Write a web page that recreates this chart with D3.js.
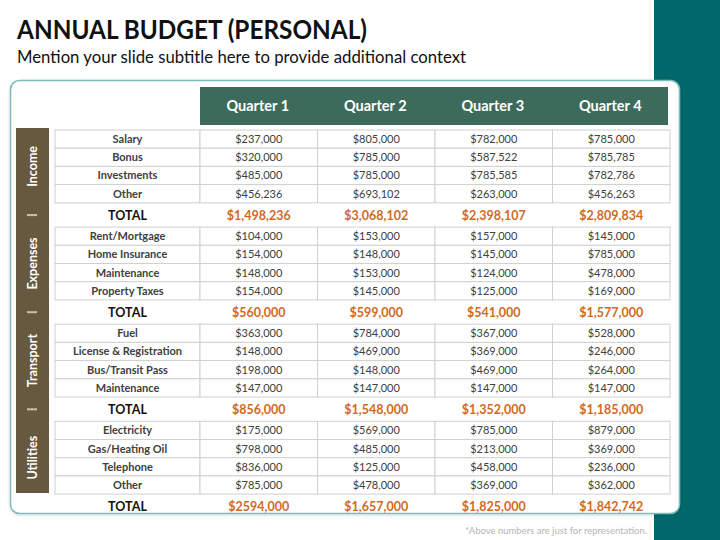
<!DOCTYPE html>
<html><head><meta charset="utf-8">
<script src="https://cdn.jsdelivr.net/npm/d3@7"></script>
<style>html,body{margin:0;padding:0;background:#fff;}svg{display:block;}</style>
</head><body><svg id="c" width="720" height="540"></svg>
<script>
const titleText = "ANNUAL BUDGET (PERSONAL)";
const subtitleText = "Mention your slide subtitle here to provide additional context";
const footnoteText = "*Above numbers are just for representation.";
const quarters = ["Quarter 1","Quarter 2","Quarter 3","Quarter 4"];
const categories = ["Income","Expenses","Transport","Utilities"];
const incomeItems = ["Salary","Bonus","Investments","Other"];
const expensesItems = ["Rent/Mortgage","Home Insurance","Maintenance","Property Taxes"];
const transportItems = ["Fuel","License & Registration","Bus/Transit Pass","Maintenance"];
const utilitiesItems = ["Electricity","Gas/Heating Oil","Telephone","Other"];
const incomeValues = [[237000,805000,782000,785000],[320000,785000,587522,785785],[485000,785000,785585,782786],[456236,693102,263000,456263]];
const expensesValues = [[104000,153000,157000,145000],[154000,148000,145000,785000],[148000,153000,124000,478000],[154000,145000,125000,169000]];
const transportValues = [[363000,784000,367000,528000],[148000,469000,369000,246000],[198000,148000,469000,264000],[147000,147000,147000,147000]];
const utilitiesValues = [[175000,569000,785000,879000],[798000,485000,213000,369000],[836000,125000,458000,236000],[785000,478000,369000,362000]];
const totalLabels = [["$1,498,236","$3,068,102","$2,398,107","$2,809,834"],["$560,000","$599,000","$541,000","$1,577,000"],["$856,000","$1,548,000","$1,352,000","$1,185,000"],["$2594,000","$1,657,000","$1,825,000","$1,842,742"]];

const groups = [
  {name:categories[0], items:incomeItems, values:incomeValues, totals:totalLabels[0]},
  {name:categories[1], items:expensesItems, values:expensesValues, totals:totalLabels[1]},
  {name:categories[2], items:transportItems, values:transportValues, totals:totalLabels[2]},
  {name:categories[3], items:utilitiesItems, values:utilitiesValues, totals:totalLabels[3]}
];

const FONT = "Lato, 'Open Sans', sans-serif";
const svg = d3.select("#c");
const fmt = d3.format("$,.0f");

// slide background
svg.append("rect").attr("x",0).attr("y",0).attr("width",720).attr("height",540).attr("fill","#fff");
svg.append("rect").attr("x",654).attr("y",0).attr("width",66).attr("height",540).attr("fill","#02676a");

// title
svg.append("text").attr("x",17).attr("y",39).text(titleText)
  .attr("font-family",FONT).attr("font-weight",700).attr("font-size",26).attr("fill","#111")
  .attr("textLength",350).attr("lengthAdjust","spacingAndGlyphs");
svg.append("text").attr("x",17).attr("y",63).text(subtitleText)
  .attr("font-family",FONT).attr("font-size",16.5).attr("fill","#111")
  .attr("textLength",449).attr("lengthAdjust","spacingAndGlyphs");

// card
const defs = svg.append("defs");
const f = defs.append("filter").attr("id","sh").attr("x","-5%").attr("y","-5%").attr("width","110%").attr("height","110%");
f.append("feDropShadow").attr("dx",0).attr("dy",1).attr("stdDeviation",1.5).attr("flood-color","#000").attr("flood-opacity",0.15);
svg.append("rect").attr("x",10.5).attr("y",80.5).attr("width",669).attr("height",433).attr("rx",9)
  .attr("fill","#fff").attr("stroke","#7dbcbc").attr("stroke-width",1.5).attr("filter","url(#sh)");

// scales
const x = d3.scaleBand().domain(quarters).range([200, 670]);
const labelX0 = 55, labelX1 = 200;
const gy = d3.scaleBand().domain(categories).range([130, 130 + 4*97.1]);
const ry = d3.scaleBand().domain(d3.range(4)).range([0, 72.8]);
const totalOffset = 85.6;

// header
svg.append("rect").attr("x",x.range()[0]).attr("y",87).attr("width",468).attr("height",38).attr("fill","#3d6b5b");
svg.selectAll("text.q").data(quarters).join("text").attr("class","q")
  .attr("x",d=>x(d)+x.bandwidth()/2 - 1).attr("y",111).attr("text-anchor","middle")
  .attr("font-family",FONT).attr("font-weight",700).attr("font-size",14.5).attr("fill","#fff").text(d=>d);

// left category bar
svg.append("rect").attr("x",16).attr("y",128).attr("width",33).attr("height",365).attr("fill","#665940");

const g = svg.selectAll("g.grp").data(groups).join("g").attr("class","grp")
  .attr("transform",d=>`translate(0,${gy(d.name)})`);

// category labels
g.append("text").attr("transform",`translate(37,${ry.range()[1]/2}) rotate(-90)`)
  .attr("text-anchor","middle").attr("font-family",FONT).attr("font-weight",700).attr("font-size",12.5)
  .attr("fill","#fff").text(d=>d.name);
// separators
g.filter((d,i)=>i<3).append("rect").attr("x",27).attr("y",totalOffset-1.5).attr("width",10).attr("height",2).attr("fill","#c9c2b3");

// table cells
g.each(function(grp){
  const s = d3.select(this);
  const rows = s.selectAll("g.row").data(grp.items.map((it,i)=>({it,i,vals:grp.values[i]}))).join("g").attr("class","row")
    .attr("transform",d=>`translate(0,${ry(d.i)})`);
  rows.append("rect").attr("x",labelX0).attr("y",0).attr("width",labelX1-labelX0).attr("height",ry.bandwidth())
    .attr("fill","#fff").attr("stroke","#d0d0d0").attr("stroke-width",1);
  rows.selectAll("rect.v").data(d=>d.vals.map((v,j)=>({v,q:quarters[j]}))).join("rect").attr("class","v")
    .attr("x",d=>x(d.q)).attr("y",0).attr("width",x.bandwidth()).attr("height",ry.bandwidth())
    .attr("fill","#fff").attr("stroke","#d0d0d0").attr("stroke-width",1);
  rows.append("text").attr("x",(labelX0+labelX1)/2).attr("y",ry.bandwidth()/2+4)
    .attr("text-anchor","middle").attr("font-family",FONT).attr("font-weight",700).attr("font-size",11)
    .attr("fill","#404040").text(d=>d.it);
  rows.selectAll("text.v").data(d=>d.vals.map((v,j)=>({v,q:quarters[j]}))).join("text").attr("class","v")
    .attr("x",d=>x(d.q)+x.bandwidth()/2).attr("y",ry.bandwidth()/2+4)
    .attr("text-anchor","middle").attr("font-family",FONT).attr("font-size",11)
    .attr("fill","#404040").text(d=>fmt(d.v));
  s.append("text").attr("x",(labelX0+labelX1)/2).attr("y",totalOffset+4.5)
    .attr("text-anchor","middle").attr("font-family",FONT).attr("font-weight",700).attr("font-size",12.5)
    .attr("fill","#111").text("TOTAL");
  s.selectAll("text.t").data(grp.totals.map((t,j)=>({t,q:quarters[j]}))).join("text").attr("class","t")
    .attr("x",d=>x(d.q)+x.bandwidth()/2).attr("y",totalOffset+4.5)
    .attr("text-anchor","middle").attr("font-family",FONT).attr("font-weight",700).attr("font-size",12.5)
    .attr("fill","#d2691f").text(d=>d.t);
});

svg.append("text").attr("x",647).attr("y",534).attr("text-anchor","end")
  .attr("font-family",FONT).attr("font-size",9.5).attr("fill","#b5b5b5").text(footnoteText);
</script></body></html>
